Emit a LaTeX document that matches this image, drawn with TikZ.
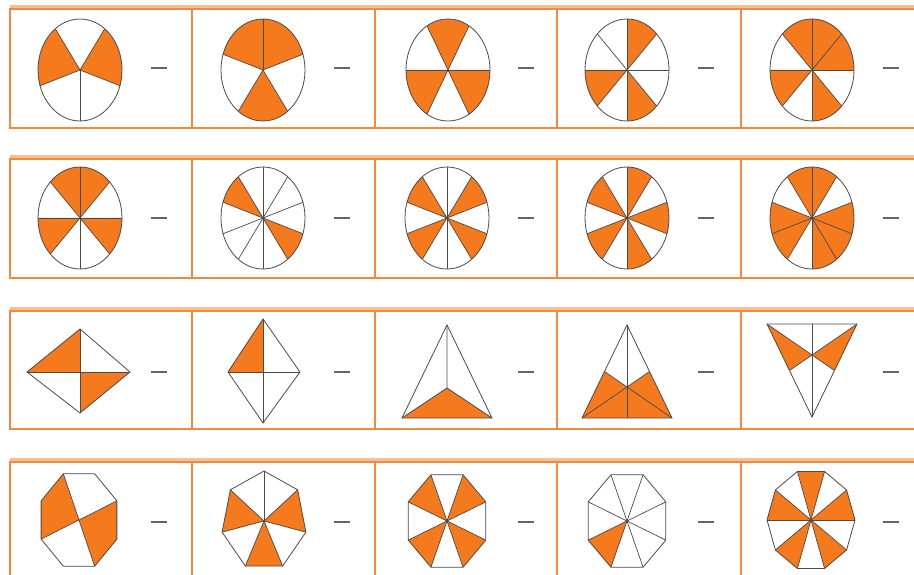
\documentclass[tikz,border=0pt]{standalone}
\usepackage{tikz}

\definecolor{fracorange}{HTML}{F57A1E}
\definecolor{boxorange}{HTML}{F08A40}
\definecolor{spokegray}{HTML}{4A4A4A}

\begin{document}
\begin{tikzpicture}[
        x=1pt, y=-1pt,
        cellbox/.style={draw=boxorange, line width=1.6pt},
        rowtop/.style={draw=boxorange!55, line width=3pt},
        part/.style={fill=fracorange},
        spoke/.style={draw=spokegray, line width=0.7pt},
        rim/.style={draw=spokegray, line width=0.8pt},
        bar/.style={draw=spokegray!85, line width=1.6pt},
        oval/.style={x=42pt, y=51pt}
    ]
    \useasboundingbox (0,0) rectangle (914,575);
    \clip (0,0) rectangle (914,575);
    
    % Frames of the four rows
    \foreach \ya/\yb in {9/128, 159/278, 311/429, 462/582} {
        \draw[rowtop] (10,\ya-2.5) -- (914,\ya-2.5);
        \draw[cellbox] (914,\ya) -- (10,\ya) -- (10,\yb) -- (914,\yb);
        \foreach \xd in {192,375,557,741}
            \draw[cellbox] (\xd,\ya) -- (\xd,\yb);
    }
    
    % Blank answer bars
    \foreach \yr in {68,218,372,522}
        \foreach \cx in {80,263,447,627,812}
            \draw[bar] (\cx+71,\yr) -- (\cx+87,\yr);
    
    % Row 1: ovals in fifths, sixths, eighths
    \begin{scope}[shift={(80,70)}, oval]
        \foreach \k in {1,3} \fill[part] (0,0) -- (270+72*\k:1) arc[start angle=270+72*\k, delta angle=72, radius=1] -- cycle;
        \foreach \k in {0,...,4} \draw[spoke] (0,0) -- (270+72*\k:1);
        \draw[rim] (0,0) circle[radius=1];
    \end{scope}
    \begin{scope}[shift={(263,70)}, oval]
        \foreach \k in {0,2,4} \fill[part] (0,0) -- (90+72*\k:1) arc[start angle=90+72*\k, delta angle=72, radius=1] -- cycle;
        \foreach \k in {0,...,4} \draw[spoke] (0,0) -- (90+72*\k:1);
        \draw[rim] (0,0) circle[radius=1];
    \end{scope}
    \begin{scope}[shift={(448,70)}, oval]
        \foreach \k in {1,3,5} \fill[part] (0,0) -- (60*\k:1) arc[start angle=60*\k, delta angle=60, radius=1] -- cycle;
        \foreach \k in {0,...,5} \draw[spoke] (0,0) -- (60*\k:1);
        \draw[rim] (0,0) circle[radius=1];
    \end{scope}
    \begin{scope}[shift={(627,70)}, oval]
        \foreach \k in {1,4,6} \fill[part] (0,0) -- (45*\k:1) arc[start angle=45*\k, delta angle=45, radius=1] -- cycle;
        \foreach \k in {0,...,7} \draw[spoke] (0,0) -- (45*\k:1);
        \draw[rim] (0,0) circle[radius=1];
    \end{scope}
    \begin{scope}[shift={(812,70)}, oval]
        \foreach \k in {0,1,2,4,6} \fill[part] (0,0) -- (45*\k:1) arc[start angle=45*\k, delta angle=45, radius=1] -- cycle;
        \foreach \k in {0,...,7} \draw[spoke] (0,0) -- (45*\k:1);
        \draw[rim] (0,0) circle[radius=1];
    \end{scope}
    
    % Row 2: ovals in eighths and tenths
    \begin{scope}[shift={(80,218)}, oval]
        \foreach \k in {1,2,4,7} \fill[part] (0,0) -- (45*\k:1) arc[start angle=45*\k, delta angle=45, radius=1] -- cycle;
        \foreach \k in {0,...,7} \draw[spoke] (0,0) -- (45*\k:1);
        \draw[rim] (0,0) circle[radius=1];
    \end{scope}
    \begin{scope}[shift={(263,218)}, oval]
        \foreach \k in {1,6} \fill[part] (0,0) -- (90+36*\k:1) arc[start angle=90+36*\k, delta angle=36, radius=1] -- cycle;
        \foreach \k in {0,...,9} \draw[spoke] (0,0) -- (90+36*\k:1);
        \draw[rim] (0,0) circle[radius=1];
    \end{scope}
    \begin{scope}[shift={(447,218)}, oval]
        \foreach \k in {1,3,6,8} \fill[part] (0,0) -- (90+36*\k:1) arc[start angle=90+36*\k, delta angle=36, radius=1] -- cycle;
        \foreach \k in {0,...,9} \draw[spoke] (0,0) -- (90+36*\k:1);
        \draw[rim] (0,0) circle[radius=1];
    \end{scope}
    \begin{scope}[shift={(627,218)}, oval]
        \foreach \k in {1,3,5,7,9} \fill[part] (0,0) -- (90+36*\k:1) arc[start angle=90+36*\k, delta angle=36, radius=1] -- cycle;
        \foreach \k in {0,...,9} \draw[spoke] (0,0) -- (90+36*\k:1);
        \draw[rim] (0,0) circle[radius=1];
    \end{scope}
    \begin{scope}[shift={(812,218)}, oval]
        \foreach \k in {0,2,3,5,6,7,9} \fill[part] (0,0) -- (90+36*\k:1) arc[start angle=90+36*\k, delta angle=36, radius=1] -- cycle;
        \foreach \k in {0,...,9} \draw[spoke] (0,0) -- (90+36*\k:1);
        \draw[rim] (0,0) circle[radius=1];
    \end{scope}
    
    % Row 3: kites and triangles
    \fill[part] (27,372) -- (80,329) -- (80,372) -- cycle;
    \fill[part] (80,372) -- (130,372) -- (80,413) -- cycle;
    \draw[spoke] (27,372) -- (130,372) (80,329) -- (80,413);
    \draw[rim] (27,372) -- (80,329) -- (130,372) -- (80,413) -- cycle;
    
    \fill[part] (228,372) -- (263,319) -- (263,372) -- cycle;
    \draw[spoke] (228,372) -- (300,372) (263,319) -- (263,423);
    \draw[rim] (228,372) -- (263,319) -- (300,372) -- (263,423) -- cycle;
    
    \fill[part] (447,388) -- (402,418) -- (492,418) -- cycle;
    \draw[spoke] (447,388) -- (447,325) (447,388) -- (402,418) (447,388) -- (492,418);
    \draw[rim] (447,325) -- (402,418) -- (492,418) -- cycle;
    
    \fill[part] (604.5,371.5) -- (582,418) -- (672,418) -- (649.5,371.5) -- (627,387) -- cycle;
    \foreach \p in {(627,325),(582,418),(672,418),(604.5,371.5),(649.5,371.5),(627,418)}
        \draw[spoke] (627,387) -- \p;
    \draw[rim] (627,325) -- (582,418) -- (672,418) -- cycle;
    
    \fill[part] (767,324) -- (812,355) -- (789.5,370.5) -- cycle;
    \fill[part] (857,324) -- (812,355) -- (834.5,370.5) -- cycle;
    \draw[spoke] (812,324) -- (812,417);
    \foreach \p in {(767,324),(857,324),(789.5,370.5),(834.5,370.5)}
        \draw[spoke] (812,355) -- \p;
    \draw[rim] (767,324) -- (857,324) -- (812,417) -- cycle;
    
    % Row 4: polygons
    \begin{scope}[shift={(79,520)}, x=41pt, y=50pt]
        \foreach \k in {2,6} \fill[part] (0,0) -- (22.5+45*\k:1) -- (67.5+45*\k:1) -- (112.5+45*\k:1) -- cycle;
        \foreach \k in {0,...,3} \draw[spoke] (0,0) -- (22.5+90*\k:1);
        \draw[rim] (22.5:1) \foreach \k in {1,...,7} {-- (22.5+45*\k:1)} -- cycle;
    \end{scope}
    \begin{scope}[shift={(264,521)}, x=43pt, y=50pt]
        \foreach \k in {1,3,5} \fill[part] (0,0) -- (90+51.4286*\k:1) -- (141.4286+51.4286*\k:1) -- cycle;
        \foreach \k in {0,...,6} \draw[spoke] (0,0) -- (90+51.4286*\k:1);
        \draw[rim] (90:1) \foreach \k in {1,...,6} {-- (90+51.4286*\k:1)} -- cycle;
    \end{scope}
    \begin{scope}[shift={(447,521)}, x=42pt, y=50pt]
        \foreach \k in {0,2,4,6} \fill[part] (0,0) -- (22.5+45*\k:1) -- (67.5+45*\k:1) -- cycle;
        \foreach \k in {0,...,7} \draw[spoke] (0,0) -- (22.5+45*\k:1);
        \draw[rim] (22.5:1) \foreach \k in {1,...,7} {-- (22.5+45*\k:1)} -- cycle;
    \end{scope}
    \begin{scope}[shift={(627,521)}, x=42pt, y=50pt]
        \foreach \k in {4} \fill[part] (0,0) -- (22.5+45*\k:1) -- (67.5+45*\k:1) -- cycle;
        \foreach \k in {0,...,7} \draw[spoke] (0,0) -- (22.5+45*\k:1);
        \draw[rim] (22.5:1) \foreach \k in {1,...,7} {-- (22.5+45*\k:1)} -- cycle;
    \end{scope}
    \begin{scope}[shift={(811,520)}, x=44pt, y=51pt]
        \foreach \k in {0,2,4,6,8} \fill[part] (0,0) -- (36*\k:1) -- (36+36*\k:1) -- cycle;
        \foreach \k in {0,...,9} \draw[spoke] (0,0) -- (36*\k:1);
        \draw[rim] (0:1) \foreach \k in {1,...,9} {-- (36*\k:1)} -- cycle;
    \end{scope}
    
\end{tikzpicture}
\end{document}
